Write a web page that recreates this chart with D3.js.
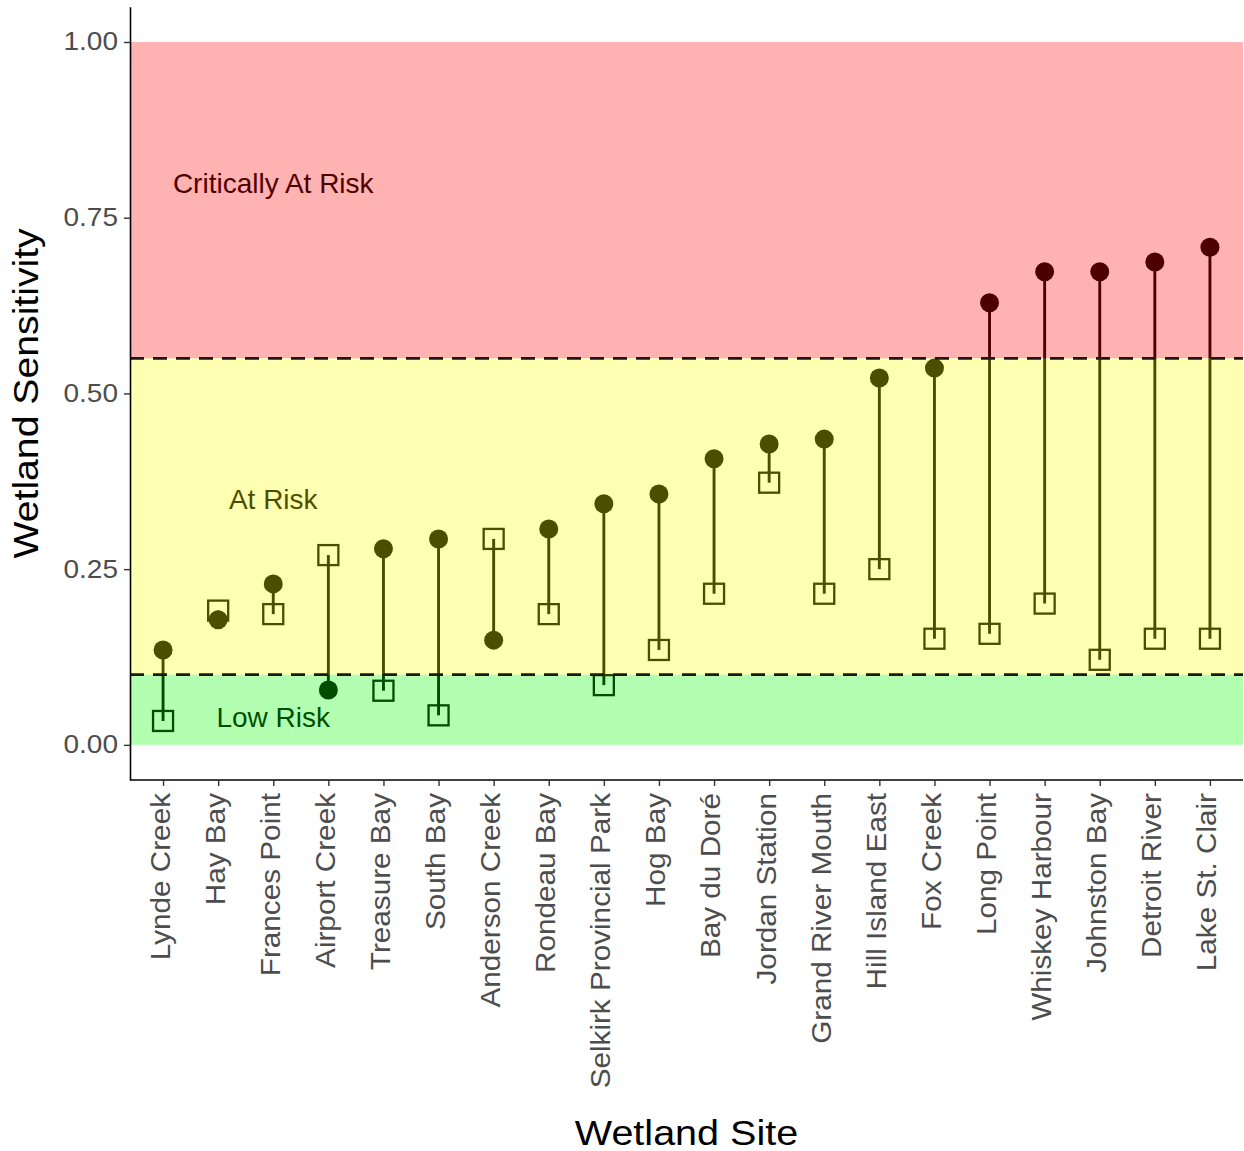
<!DOCTYPE html>
<html>
<head>
<meta charset="utf-8">
<script src="https://cdn.jsdelivr.net/npm/d3@7"></script>
<style>
  html, body { margin: 0; padding: 0; background: #fff; }
  svg { display: block; font-family: "Liberation Sans", Arial, Helvetica, sans-serif; }
</style>
</head>
<body>
<svg id="chart" width="1244" height="1151"></svg>
<script>
// Wetland sites, ordered by sensitivity score
const sites = [
  "Lynde Creek", "Hay Bay", "Frances Point", "Airport Creek", "Treasure Bay",
  "South Bay", "Anderson Creek", "Rondeau Bay", "Selkirk Provincial Park", "Hog Bay",
  "Bay du Doré", "Jordan Station", "Grand River Mouth", "Hill Island East", "Fox Creek",
  "Long Point", "Whiskey Harbour", "Johnston Bay", "Detroit River", "Lake St. Clair"
];
// Circle markers (filled)
const circleValues = [
  0.135, 0.178, 0.229, 0.078, 0.279,
  0.293, 0.149, 0.307, 0.343, 0.357,
  0.407, 0.428, 0.435, 0.522, 0.536,
  0.629, 0.673, 0.673, 0.687, 0.708
];
// Square markers (open)
const squareValues = [
  0.034, 0.191, 0.186, 0.270, 0.077,
  0.042, 0.293, 0.186, 0.085, 0.135,
  0.215, 0.373, 0.215, 0.250, 0.151,
  0.158, 0.201, 0.121, 0.151, 0.151
];
// Risk bands
const bandNames = ["Low Risk", "At Risk", "Critically At Risk"];
const bandLower = [0, 0.10, 0.55];
const bandUpper = [0.10, 0.55, 1.00];
const bandColors = ["#00ff00", "#ffff00", "#ff0000"];
const bandLabelY = [0.04, 0.35, 0.80];
const bandLabelSite = "Frances Point";
const thresholds = [0.10, 0.55];
const yTicks = [0, 0.25, 0.50, 0.75, 1.00];

const svg = d3.select("#chart");
const panelLeft = 130, panelRight = 1243, panelTop = 6.85, panelBottom = 780;

const x = d3.scalePoint().domain(sites).range([panelLeft, panelRight]).padding(0.6);
const y = d3.scaleLinear().domain([-0.05, 1.05]).range([panelBottom, panelTop]);

const rows = sites.map((s, i) => ({ site: s, c: circleValues[i], q: squareValues[i] }));

const marks = svg.append("g");

// connecting segments
marks.selectAll("line.seg").data(rows).join("line")
  .attr("class", "seg")
  .attr("x1", d => x(d.site)).attr("x2", d => x(d.site))
  .attr("y1", d => y(d.c)).attr("y2", d => y(d.q))
  .attr("stroke", "#000").attr("stroke-width", 2.9);

// filled circles
marks.selectAll("circle").data(rows).join("circle")
  .attr("cx", d => x(d.site)).attr("cy", d => y(d.c))
  .attr("r", 9.5).attr("fill", "#000");

// open squares
const sq = 20;
marks.selectAll("rect.sq").data(rows).join("rect")
  .attr("class", "sq")
  .attr("x", d => x(d.site) - sq / 2).attr("y", d => y(d.q) - sq / 2)
  .attr("width", sq).attr("height", sq)
  .attr("fill", "none").attr("stroke", "#000").attr("stroke-width", 2.3);

// band labels (tinted by the translucent bands laid over them)
marks.selectAll("text.band").data(bandNames).join("text")
  .attr("class", "band")
  .attr("x", x(bandLabelSite)).attr("y", (d, i) => y(bandLabelY[i]))
  .attr("dy", "0.36em")
  .attr("text-anchor", "middle")
  .attr("font-size", 28)
  .attr("fill", "#000")
  .text(d => d);

// translucent risk bands
svg.append("g").selectAll("rect").data(bandNames).join("rect")
  .attr("x", panelLeft).attr("width", panelRight - panelLeft)
  .attr("y", (d, i) => y(bandUpper[i]))
  .attr("height", (d, i) => y(bandLower[i]) - y(bandUpper[i]))
  .attr("fill", (d, i) => bandColors[i])
  .attr("fill-opacity", 0.3);

// threshold lines
svg.append("g").selectAll("line").data(thresholds).join("line")
  .attr("x1", panelLeft).attr("x2", panelRight)
  .attr("y1", d => y(d)).attr("y2", d => y(d))
  .attr("stroke", "#1a1a1a").attr("stroke-width", 2.8)
  .attr("stroke-dasharray", "14,9");

// y axis
const yAxis = svg.append("g")
  .attr("transform", `translate(${panelLeft},0)`)
  .call(d3.axisLeft(y).tickValues(yTicks).tickFormat(d3.format(".2f")).tickSize(6).tickSizeOuter(0).tickPadding(6));
yAxis.select(".domain").attr("stroke", "#000").attr("stroke-width", 1.6);
yAxis.selectAll(".tick line").attr("stroke", "#333").attr("stroke-width", 1.4);
yAxis.selectAll(".tick text")
  .attr("font-size", 25).attr("fill", "#4d4d4d")
  .attr("font-family", "Liberation Sans, Arial, sans-serif")
  .each(function () {
    const t = d3.select(this);
    const xx = +t.attr("x");
    t.attr("x", null).attr("transform", `translate(${xx},0) scale(1.12,1)`);
  });

// x axis
const xAxis = svg.append("g")
  .attr("transform", `translate(0,${panelBottom})`)
  .call(d3.axisBottom(x).tickSize(6).tickSizeOuter(0));
xAxis.select(".domain").attr("stroke", "#000").attr("stroke-width", 1.6)
  .attr("d", `M${panelLeft},0H${panelRight}`);
xAxis.selectAll(".tick line").attr("stroke", "#333").attr("stroke-width", 1.4);
xAxis.selectAll(".tick text")
  .attr("font-size", 27).attr("fill", "#4d4d4d")
  .attr("font-family", "Liberation Sans, Arial, sans-serif")
  .attr("text-anchor", "end")
  .attr("x", null).attr("y", null)
  .attr("dy", "0.22em")
  .attr("transform", "translate(0,13) rotate(-90) scale(1.1,1)");

// axis titles
svg.append("text")
  .attr("transform", `translate(${(panelLeft + panelRight) / 2},1145) scale(1.13,1)`)
  .attr("text-anchor", "middle")
  .attr("font-size", 35).attr("fill", "#000")
  .text("Wetland Site");

svg.append("text")
  .attr("transform", `translate(38,${(panelTop + panelBottom) / 2}) rotate(-90) scale(1.12,1)`)
  .attr("text-anchor", "middle")
  .attr("font-size", 35).attr("fill", "#000")
  .text("Wetland Sensitivity");
</script>
</body>
</html>
